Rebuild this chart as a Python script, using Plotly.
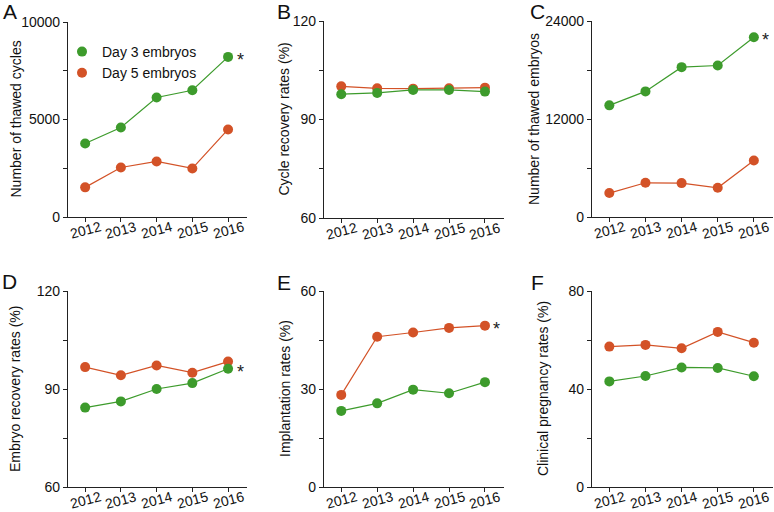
import plotly.graph_objects as go
from plotly.subplots import make_subplots

years = ["2012", "2013", "2014", "2015", "2016"]

# A: number of thawed cycles
cycles_d3 = [3770, 4590, 6130, 6500, 8210]
cycles_d5 = [1520, 2540, 2850, 2490, 4490]
# B: cycle recovery rates (%)
cycle_rec_d3 = [97.7, 98.1, 99.0, 99.0, 98.5]
cycle_rec_d5 = [100.1, 99.5, 99.4, 99.5, 99.7]
# C: number of thawed embryos
embryos_d3 = [13670, 15380, 18350, 18550, 22010]
embryos_d5 = [2930, 4190, 4150, 3580, 6920]
# D: embryo recovery rates (%)
embryo_rec_d3 = [84.3, 86.2, 90.0, 91.8, 96.2]
embryo_rec_d5 = [96.7, 94.2, 97.2, 95.0, 98.4]
# E: implantation rates (%)
implant_d3 = [23.3, 25.6, 29.8, 28.7, 32.1]
implant_d5 = [28.2, 46.0, 47.3, 48.7, 49.4]
# F: clinical pregnancy rates (%)
preg_d3 = [43.1, 45.3, 48.8, 48.6, 45.2]
preg_d5 = [57.3, 58.0, 56.6, 63.3, 58.9]

GREEN = "#3d9b2c"
ORANGE = "#d35227"
FONT = "Liberation Sans, Arial, sans-serif"

panels = [
    # letter, title, d3, d5, ymin, ymax, star series
    ("A", "Number of thawed cycles", cycles_d3, cycles_d5, 0, 10000, "d3"),
    ("B", "Cycle recovery rates (%)", cycle_rec_d3, cycle_rec_d5, 60, 120, None),
    ("C", "Number of thawed embryos", embryos_d3, embryos_d5, 0, 24000, "d3"),
    ("D", "Embryo recovery rates (%)", embryo_rec_d3, embryo_rec_d5, 60, 120, "d3"),
    ("E", "Implantation rates (%)", implant_d3, implant_d5, 0, 60, "d5"),
    ("F", "Clinical pregnancy rates (%)", preg_d3, preg_d5, 0, 80, None),
]

# layout in pixels of the 774x512 page
W, H = 774, 512
boxes = [  # plot area left, right, top, bottom
    (68, 247, 22, 217), (324, 504, 21, 218), (592, 773, 21, 217),
    (68, 247, 291, 487), (324, 504, 291, 487), (592, 773, 291, 487),
]
title_x = [15, 283, 534, 15, 285, 543]
letter_pos = [(1, 11), (275, 11), (528, 11), (0, 281), (275, 282), (529, 282)]

fig = make_subplots(rows=2, cols=3)

for i, (letter, title, d3, d5, ymin, ymax, star) in enumerate(panels):
    r, c = i // 3 + 1, i % 3 + 1
    fig.add_trace(go.Scatter(x=years, y=d5, mode="lines+markers", showlegend=False,
                             line=dict(color=ORANGE, width=1.2),
                             marker=dict(color=ORANGE, size=10)), row=r, col=c)
    fig.add_trace(go.Scatter(x=years, y=d3, mode="lines+markers", showlegend=False,
                             line=dict(color=GREEN, width=1.2),
                             marker=dict(color=GREEN, size=10)), row=r, col=c)

    step = (ymax - ymin) / 4
    tickvals = [ymin + k * step for k in range(5)]
    ticktext = [f"{v:g}" if k % 2 == 0 else "" for k, v in enumerate(tickvals)]

    l, rr, t, b = boxes[i]
    xa = "xaxis" if i == 0 else f"xaxis{i + 1}"
    ya = "yaxis" if i == 0 else f"yaxis{i + 1}"
    fig.layout[xa].update(domain=[l / W, rr / W], range=[-0.48, 4.53])
    fig.layout[ya].update(domain=[1 - b / H, 1 - t / H], range=[ymin, ymax],
                          tickvals=tickvals, ticktext=ticktext)

    xref = "x" if i == 0 else f"x{i + 1}"
    yref = "y" if i == 0 else f"y{i + 1}"
    # tilted year labels, centred under each tick
    for k, yr in enumerate(years):
        fig.add_annotation(x=k, y=1 - b / H, xref=xref, yref="paper", text=yr,
                           showarrow=False, textangle=-15, xanchor="center",
                           yanchor="top", yshift=0, borderpad=0,
                           font=dict(size=14, color="#111", family=FONT))
    if star:
        sy = d3[-1] if star == "d3" else d5[-1]
        fig.add_annotation(x=4, y=sy, xref=xref, yref=yref, text="*",
                           showarrow=False, xshift=12, yshift=-3,
                           font=dict(size=18, color="#222", family=FONT))
    # y-axis title
    fig.add_annotation(x=title_x[i] / W, y=1 - (t + b) / 2 / H, xref="paper", yref="paper",
                       text=title, showarrow=False, textangle=-90,
                       xanchor="center", yanchor="middle",
                       font=dict(size=14, color="#111", family=FONT))
    lx, ly = letter_pos[i]
    fig.add_annotation(x=lx / W, y=1 - ly / H, xref="paper", yref="paper",
                       text=letter, showarrow=False, xanchor="left", yanchor="middle",
                       font=dict(size=21, color="#111", family=FONT))

fig.update_xaxes(showgrid=False, zeroline=False, showline=True, linecolor="#222",
                 linewidth=1.2, ticks="outside", ticklen=4, tickcolor="#222",
                 showticklabels=False, automargin=False)
fig.update_yaxes(showgrid=False, zeroline=False, showline=True, linecolor="#222",
                 linewidth=1.2, ticks="outside", ticklen=4, tickcolor="#222",
                 tickfont=dict(size=14, color="#111"), automargin=False)

# legend entries (markers only)
fig.add_trace(go.Scatter(x=[None], y=[None], mode="markers", name="Day 3 embryos",
                         marker=dict(color=GREEN, size=10)), row=1, col=1)
fig.add_trace(go.Scatter(x=[None], y=[None], mode="markers", name="Day 5 embryos",
                         marker=dict(color=ORANGE, size=10)), row=1, col=1)

fig.update_layout(
    width=W, height=H,
    margin=dict(l=0, r=0, t=0, b=0, autoexpand=False),
    plot_bgcolor="white", paper_bgcolor="white",
    font=dict(family=FONT, size=14, color="#111"),
    legend=dict(x=62 / W, y=1 - 36 / H, xanchor="left", yanchor="top",
                bgcolor="rgba(0,0,0,0)", font=dict(size=14),
                itemwidth=30, tracegroupgap=0),
)

# the page body has a default 8px margin; drop it so the figure fills the window
fig.write_html("out.html", config={"displayModeBar": False},
               post_script="document.body.style.margin='0';")
